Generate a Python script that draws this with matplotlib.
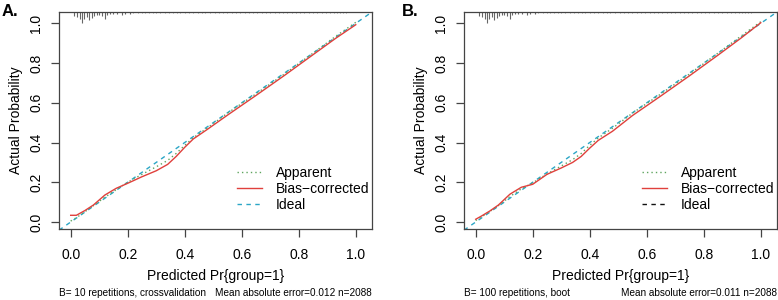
import matplotlib
matplotlib.use("Agg")
import matplotlib.pyplot as plt
from matplotlib.lines import Line2D

plt.rcParams['font.family'] = ['Liberation Sans', 'DejaVu Sans']

# ---- data ----
pred_grid = [0.0, 0.02, 0.05, 0.08, 0.12, 0.16, 0.20, 0.25, 0.30, 0.34, 0.37, 0.40,
             0.43, 0.48, 0.55, 0.65, 0.75, 0.85, 0.93, 1.0]

a_apparent = [0.005, 0.022, 0.052, 0.083, 0.125, 0.163, 0.200, 0.240, 0.278, 0.310, 0.345, 0.386,
              0.424, 0.474, 0.548, 0.645, 0.745, 0.850, 0.935, 1.005]
a_bias = [0.034, 0.034, 0.058, 0.086, 0.136, 0.170, 0.195, 0.228, 0.258, 0.290, 0.330, 0.376,
          0.418, 0.467, 0.538, 0.637, 0.738, 0.842, 0.925, 0.993]

b_apparent = [0.008, 0.025, 0.054, 0.083, 0.128, 0.167, 0.197, 0.242, 0.282, 0.314, 0.345, 0.386,
              0.423, 0.472, 0.548, 0.645, 0.745, 0.850, 0.935, 1.008]
b_bias = [0.014, 0.030, 0.056, 0.086, 0.140, 0.175, 0.190, 0.240, 0.272, 0.300, 0.330, 0.372,
          0.411, 0.457, 0.536, 0.635, 0.736, 0.840, 0.925, 1.003]

# rug of predicted probabilities (position, relative spike length)
rug_x = [0.012, 0.023, 0.033, 0.040, 0.048, 0.056, 0.065, 0.074, 0.082, 0.091, 0.100, 0.109,
         0.120, 0.128, 0.138, 0.149, 0.161, 0.179, 0.190, 0.208]
rug_h = [0.40, 0.45, 0.60, 1.00, 0.60, 0.45, 0.70, 0.52, 0.40, 0.30, 0.30, 0.40,
         0.60, 0.30, 0.22, 0.22, 0.15, 0.30, 0.22, 0.15]
rug_small_x = [0.22, 0.235, 0.25, 0.262, 0.275, 0.29, 0.30, 0.315, 0.33, 0.345, 0.36, 0.372,
               0.385, 0.40, 0.415, 0.43, 0.445, 0.46, 0.472, 0.49, 0.505, 0.52, 0.535, 0.55,
               0.565, 0.58, 0.595, 0.61, 0.625, 0.64, 0.655, 0.67, 0.685, 0.70, 0.715, 0.73,
               0.745, 0.76, 0.775, 0.79, 0.805, 0.82, 0.835, 0.85, 0.865, 0.88, 0.895, 0.91,
               0.925, 0.935, 0.945, 0.955, 0.965]
rug_small_h = [0.12] * len(rug_small_x)

x_ticks = [0.0, 0.2, 0.4, 0.6, 0.8, 1.0]
y_ticks = [0.0, 0.2, 0.4, 0.6, 0.8, 1.0]

panels = [
    ("A.", a_apparent, a_bias, "#2BA6C6", "B= 10 repetitions, crossvalidation",
     "Mean absolute error=0.012 n=2088"),
    ("B.", b_apparent, b_bias, "#111111", "B= 100 repetitions, boot",
     "Mean absolute error=0.011 n=2088"),
]

col_app = "#5FA55F"
col_bias = "#E0403C"
col_ideal = "#2BA6C6"

fig = plt.figure(figsize=(7.78, 3.0), dpi=100)
lefts = [59 / 778, 464 / 778]
label_x = [2 / 778, 402 / 778]
for (lab, app, bias, legend_ideal_col, sub_l, sub_r), left, lx in zip(panels, lefts, label_x):
    ax = fig.add_axes([left, 1 - 229 / 300, 313 / 778, 217 / 300])
    xlo, xhi = -0.041, 1.057
    ylo, yhi = -0.035, 1.057
    ax.set_xlim(xlo, xhi)
    ax.set_ylim(ylo, yhi)
    ax.plot([xlo, xhi], [xlo, xhi], color=col_ideal, lw=1.0, ls=(0, (3.2, 3.2)))
    ax.plot(pred_grid, app, color=col_app, lw=1.0, ls=(0, (1, 2.2)))
    ax.plot(pred_grid, bias, color=col_bias, lw=1.0)
    spike = 0.055
    ax.vlines(rug_x, [yhi - spike * h for h in rug_h], yhi, color="#666666", lw=0.8)
    ax.vlines(rug_small_x, [yhi - spike * h for h in rug_small_h], yhi, color="#777777", lw=0.5)

    ax.set_xticks(x_ticks)
    ax.set_yticks(y_ticks)
    ax.set_xticklabels([f"{v:.1f}" for v in x_ticks])
    ax.set_yticklabels([f"{v:.1f}" for v in y_ticks], rotation=90, va="center")
    ax.tick_params(direction="out", length=5.5, width=0.9, labelsize=10, color="#444444")
    ax.tick_params(axis="x", pad=8)
    ax.tick_params(axis="y", pad=6)
    for s in ax.spines.values():
        s.set_linewidth(0.9)
        s.set_color("#444444")
    ax.set_xlabel("Predicted Pr{group=1}", fontsize=10, labelpad=5)
    ax.set_ylabel("Actual Probability", fontsize=10, labelpad=4)

    handles = [Line2D([], [], color=col_app, lw=1.0, ls=(0, (1, 2.2))),
               Line2D([], [], color=col_bias, lw=1.0),
               Line2D([], [], color=legend_ideal_col, lw=1.0, ls=(0, (3.2, 3.2)))]
    ax.legend(handles, ["Apparent", "Bias\u2212corrected", "Ideal"], loc="lower right",
              bbox_to_anchor=(1.0, 0.065), frameon=False, fontsize=10, handlelength=1.8,
              handletextpad=1.0, labelspacing=0.16, borderpad=0.2, borderaxespad=0.0)

    fig.text(lx, 1 - 11 / 300, lab, fontsize=12, fontweight="bold", ha="left", va="center")
    fig.text(left, 1 - 293 / 300, sub_l, fontsize=7.2, ha="left", va="center")
    fig.text(left + 313 / 778, 1 - 293 / 300, sub_r, fontsize=7.2, ha="right", va="center")

fig.savefig("out.png", dpi=100)
